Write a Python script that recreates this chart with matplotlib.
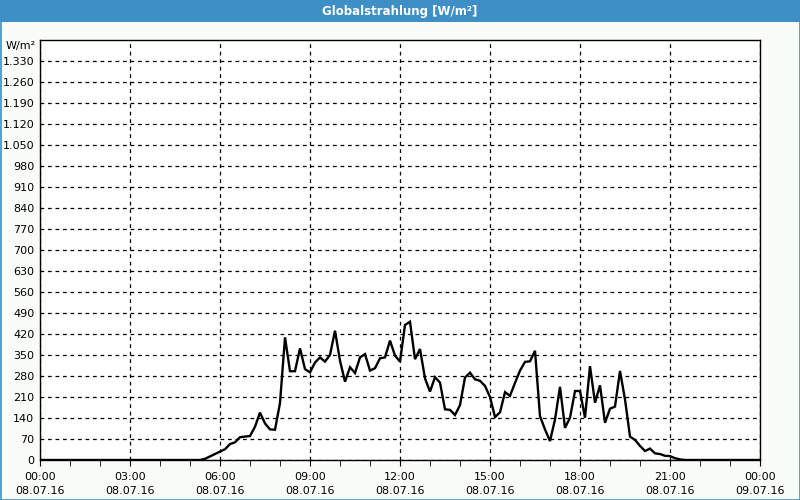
import pandas as pd
import matplotlib
matplotlib.use("Agg")
import matplotlib.pyplot as plt
import matplotlib.dates as mdates
from matplotlib.patches import Rectangle
from matplotlib.ticker import FuncFormatter

# Globalstrahlung, 10-minute values starting 05:10 (W/m²)
start = "2016-07-08 05:10"
values = [0, 0, 4, 12, 20, 28, 36, 53, 59, 76, 78, 80, 111, 158, 122, 102, 101, 190,
          409, 296, 296, 372, 303, 292, 325, 342, 328, 350, 431, 331, 261, 309, 290,
          342, 353, 298, 306, 339, 342, 398, 348, 328, 450, 461, 336, 370, 272, 228,
          276, 258, 169, 167, 150, 183, 275, 291, 269, 264, 247, 210, 143, 159, 226,
          214, 257, 298, 327, 329, 364, 146, 102, 63, 135, 244, 107, 141, 230, 230,
          141, 313, 191, 249, 124, 171, 178, 297, 202, 78, 67, 47, 30, 38, 22, 20,
          14, 13, 6, 2, 0]
day_start = pd.Timestamp("2016-07-08 00:00")
day_end = pd.Timestamp("2016-07-09 00:00")
y_ticks = list(range(0, 1331, 70))
title = "Globalstrahlung [W/m²]"
unit = "W/m²"

times = pd.date_range(start, periods=len(values), freq="10min")
x = [day_start] + list(times) + [day_end]
y = [0] + values + [0]

fig = plt.figure(figsize=(8, 5), dpi=100, facecolor="#fafcfa")

# title bar and frame
fig.patches.append(Rectangle((0, 1 - 22 / 500), 1, 22 / 500, transform=fig.transFigure,
                             facecolor="#3d8fc6", edgecolor="none", zorder=0))
fig.patches.append(Rectangle((0.5 / 800, 0.5 / 500), 1 - 1 / 800, 1 - 1 / 500,
                             transform=fig.transFigure, facecolor="none",
                             edgecolor="#3d8fc6", lw=1.2, zorder=5))
fig.text(0.5, 1 - 11 / 500, title, color="white", ha="center", va="center",
         fontsize=8.5, fontweight="bold")

ax = fig.add_axes([40 / 800, 40 / 500, 720 / 800, 420 / 500])
ax.set_facecolor("white")
ax.plot(x, y, color="black", lw=1.7, solid_joinstyle="miter")

ax.set_xlim(day_start, day_end)
ax.set_ylim(0, 1400)
ax.set_yticks(y_ticks)
ax.yaxis.set_major_formatter(FuncFormatter(lambda v, p: f"{int(v):,}".replace(",", ".")))

ax.xaxis.set_major_locator(mdates.HourLocator(byhour=range(0, 24, 3)))
ax.xaxis.set_minor_locator(mdates.HourLocator())
ax.xaxis.set_major_formatter(mdates.DateFormatter("%H:%M\n%d.%m.%y"))

ax.grid(True, which="major", color="black", linestyle=(0, (3, 3)), lw=0.9)
ax.tick_params(axis="y", length=0, pad=4, labelsize=8)
ax.tick_params(axis="x", which="major", length=4, pad=5, labelsize=8)
ax.tick_params(axis="x", which="minor", length=4)
for lbl in ax.get_xticklabels():
    lbl.set_linespacing(1.4)
for s in ax.spines.values():
    s.set_linewidth(1)
    s.set_color("black")

fig.text(36 / 800, 1 - 46 / 500, unit, ha="right", va="center", fontsize=8)

fig.savefig("out.png", dpi=100, facecolor=fig.get_facecolor())
